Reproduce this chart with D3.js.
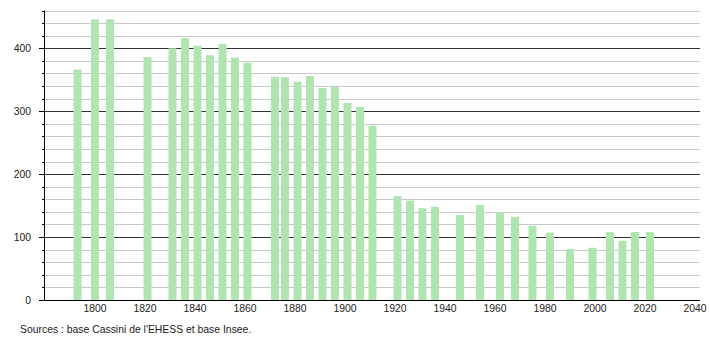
<!DOCTYPE html>
<html>
<head>
<meta charset="utf-8">
<script src="https://cdn.jsdelivr.net/npm/d3@7"></script>
<style>
  body { margin: 0; background: #fff; }
  text { font-family: "Liberation Sans", Arial, sans-serif; fill: #222; }
</style>
</head>
<body>
<div id="chart"></div>
<script>
// census years and population
const years = [1793, 1800, 1806, 1821, 1831, 1836, 1841, 1846, 1851, 1856, 1861,
  1872, 1876, 1881, 1886, 1891, 1896, 1901, 1906, 1911,
  1921, 1926, 1931, 1936, 1946, 1954, 1962, 1968, 1975, 1982, 1990, 1999,
  2006, 2011, 2016, 2022];
const population = [366, 446, 446, 386, 400, 416, 404, 389, 407, 385, 377,
  355, 354, 347, 356, 337, 339, 313, 307, 277,
  165, 158, 146, 148, 135, 151, 139, 132, 118, 107, 81, 83,
  108, 94, 108, 108];
const xTicks = [1800, 1820, 1840, 1860, 1880, 1900, 1920, 1940, 1960, 1980, 2000, 2020, 2040];
const yMajor = [0, 100, 200, 300, 400];
const source = "Sources : base Cassini de l'EHESS et base Insee.";

const data = years.map((y, i) => ({ year: y, pop: population[i] }));

const width = 710,
  height = 340;

const x = d3.scaleLinear().domain([1780, 2042]).range([45, 700]);
const y = d3.scaleLinear().domain([0, 460]).range([300, 10.5]);
const barW = 8;
const fontSize = "10.4px";

const svg = d3
  .select("#chart")
  .append("svg")
  .attr("width", width)
  .attr("height", height);

// minor grid every 20
svg
  .append("g")
  .selectAll("line")
  .data(d3.range(20, 461, 20).filter(v => v % 100 != 0))
  .enter()
  .append("line")
  .attr("x1", 44)
  .attr("x2", 700)
  .attr("y1", d => Math.round(y(d)) + 0.5)
  .attr("y2", d => Math.round(y(d)) + 0.5)
  .attr("stroke", "#c8c8c8");

// major grid every 100
svg
  .append("g")
  .selectAll("line")
  .data(yMajor.slice(1))
  .enter()
  .append("line")
  .attr("x1", 44)
  .attr("x2", 700)
  .attr("y1", d => Math.round(y(d)) + 0.5)
  .attr("y2", d => Math.round(y(d)) + 0.5)
  .attr("stroke", "#333");

// bars
svg
  .append("g")
  .selectAll("rect")
  .data(data)
  .enter()
  .append("rect")
  .attr("x", d => x(d.year) - barW / 2)
  .attr("width", barW)
  .attr("y", d => y(d.pop))
  .attr("height", d => y(0) - y(d.pop))
  .attr("fill", "#b0e4b0");

// y axis
const yAxis = svg.append("g");
yAxis
  .append("line")
  .attr("x1", 44.5)
  .attr("x2", 44.5)
  .attr("y1", y(460))
  .attr("y2", y(0))
  .attr("stroke", "#000");
yAxis
  .selectAll(".minor")
  .data(d3.range(20, 461, 20).filter(v => v % 100 != 0))
  .enter()
  .append("line")
  .attr("x1", 42)
  .attr("x2", 44)
  .attr("y1", d => Math.round(y(d)) + 0.5)
  .attr("y2", d => Math.round(y(d)) + 0.5)
  .attr("stroke", "#000");
yAxis
  .selectAll(".major")
  .data(yMajor)
  .enter()
  .append("line")
  .attr("x1", 39)
  .attr("x2", 44)
  .attr("y1", d => Math.round(y(d)) + 0.5)
  .attr("y2", d => Math.round(y(d)) + 0.5)
  .attr("stroke", "#000");
yAxis
  .selectAll("text")
  .data(yMajor)
  .enter()
  .append("text")
  .attr("x", 31)
  .attr("y", d => y(d))
  .attr("dy", "0.35em")
  .attr("text-anchor", "end")
  .attr("font-size", fontSize)
  .text(d => d);

// x axis
svg
  .append("line")
  .attr("x1", 39)
  .attr("x2", 700)
  .attr("y1", 300.5)
  .attr("y2", 300.5)
  .attr("stroke", "#000");
svg
  .append("g")
  .selectAll("text")
  .data(xTicks)
  .enter()
  .append("text")
  .attr("x", d => x(d))
  .attr("y", 312)
  .attr("text-anchor", "middle")
  .attr("font-size", fontSize)
  .text(d => d);

// source
svg
  .append("text")
  .attr("x", 20)
  .attr("y", 333)
  .attr("font-size", fontSize)
  .text(source);
</script>
</body>
</html>
